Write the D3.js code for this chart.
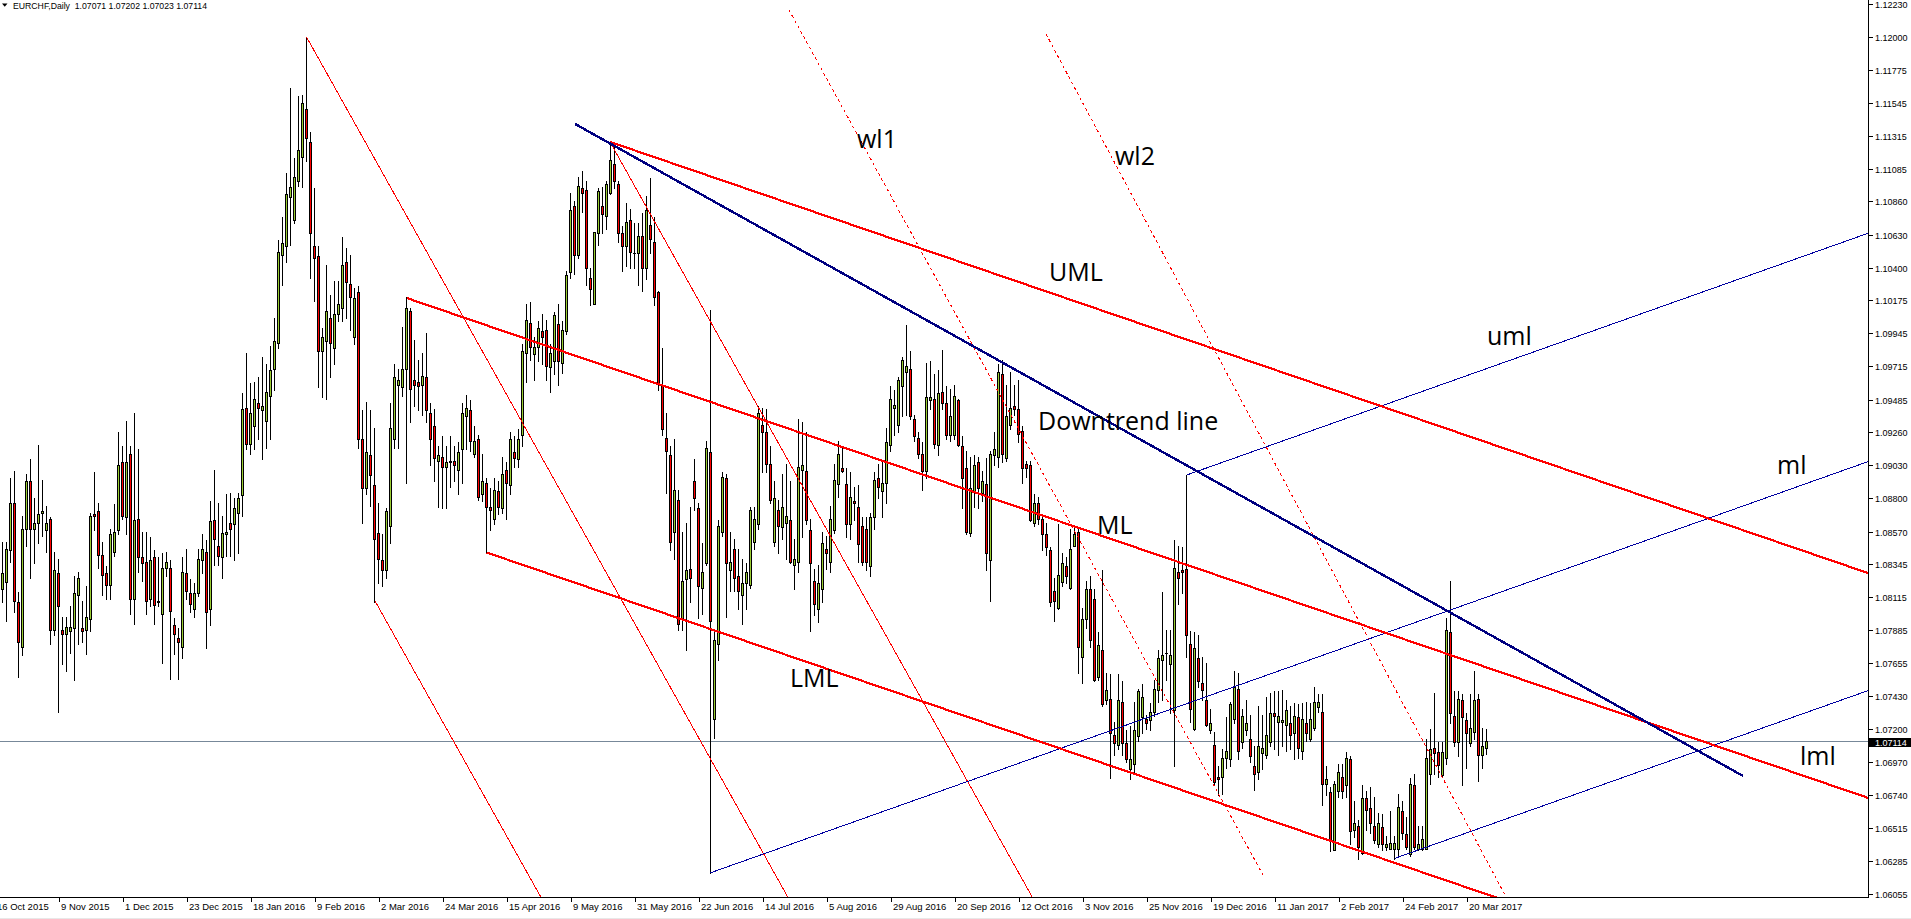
<!DOCTYPE html>
<html><head><meta charset="utf-8">
<script src="https://cdn.jsdelivr.net/npm/d3@7"></script>
<style>
html,body{margin:0;padding:0;background:#fff;overflow:hidden}
svg{display:block}
</style></head><body>
<script>
// ---------------- DATA ----------------
const chartTitle = "EURCHF,Daily";
const headerOHLC = ["1.07071", "1.07202", "1.07023", "1.07114"];
const bidPrice = 1.07114;
const firstBar = 1; // bar index of first value (bar 0 = 16 Oct 2015)

const opens = [
1.0817,1.0822,1.0844,1.0877,1.0808,1.0777,1.0859,1.0892,1.0859,1.0863,
1.0870,1.0858,1.0866,1.0789,1.0828,1.0789,1.0786,1.0788,1.0790,1.0813,
1.0790,1.0789,1.0796,1.0869,1.0871,1.0841,1.0828,1.0820,1.0843,1.0858,
1.0905,1.0867,1.0911,1.0810,1.0866,1.0839,1.0836,1.0810,1.0839,1.0809,
1.0800,1.0832,1.0832,1.0792,1.0783,1.0777,1.0828,1.0814,1.0803,1.0814,
1.0837,1.0843,1.0803,1.0865,1.0847,1.0839,1.0855,1.0863,1.0862,1.0870,
1.0882,1.0943,1.0918,1.0930,1.0946,1.0941,1.0934,1.0951,1.0970,1.0988,
1.1049,1.1055,1.1089,1.1073,1.1100,1.1117,1.1150,1.1127,1.1055,1.1048,
1.0982,1.0989,1.1005,1.0984,1.1008,1.1012,1.1044,1.1029,1.0992,1.1023,
1.0921,1.0887,1.0910,1.0889,1.0856,1.0837,1.0830,1.0861,1.0921,1.0959,
1.0957,1.0970,1.1010,1.0962,1.0961,1.0959,1.0964,1.0939,1.0930,1.0906,
1.0909,1.0902,1.0905,1.0906,1.0900,1.0914,1.0937,1.0941,1.0911,1.0921,
1.0883,1.0891,1.0874,1.0866,1.0885,1.0873,1.0900,1.0889,1.0912,1.0907,
1.0924,1.0981,1.1002,1.0980,1.0985,1.0996,1.0997,1.0971,1.0975,1.1001,
1.0974,1.0996,1.1037,1.1083,1.1049,1.1095,1.1094,1.1033,1.1015,1.1064,
1.1083,1.1076,1.1092,1.1112,1.1098,1.1064,1.1055,1.1073,1.1050,1.1050,
1.1062,1.1040,1.1070,1.1058,1.1023,1.0958,1.0922,1.0910,1.0857,1.0879,
1.0796,1.0824,1.0831,1.0892,1.0873,1.0818,1.0835,1.0912,1.0727,1.0779,
1.0857,1.0894,1.0830,1.0845,1.0826,1.0813,1.0821,1.0820,1.0850,1.0862,
1.0931,1.0926,1.0904,1.0850,1.0872,1.0860,1.0863,1.0865,1.0834,1.0836,
1.0900,1.0899,1.0858,1.0823,1.0803,1.0817,1.0845,1.0836,1.0858,1.0890,
1.0901,1.0890,1.0862,1.0878,1.0874,1.0861,1.0859,1.0833,1.0867,1.0894,
1.0885,1.0891,1.0917,1.0943,1.0931,1.0958,1.0968,1.0970,1.0935,1.0922,
1.0911,1.0899,1.0948,1.0949,1.0917,1.0954,1.0946,1.0924,1.0924,1.0948,
1.0916,1.0901,1.0856,1.0885,1.0905,1.0884,1.0890,1.0837,1.0910,1.0909,
1.0966,1.0908,1.0931,1.0944,1.0942,1.0927,1.0904,1.0903,1.0863,1.0877,
1.0866,1.0855,1.0844,1.0816,1.0804,1.0822,1.0833,1.0818,1.0847,1.0857,
1.0770,1.0796,1.0817,1.0810,1.0756,1.0775,1.0740,1.0741,1.0716,1.0709,
1.0739,1.0710,1.0692,1.0696,1.0715,1.0728,1.0727,1.0726,1.0732,1.0747,
1.0768,1.0773,1.0765,1.0733,1.0829,1.0830,1.0831,1.0779,1.0720,1.0769,
1.0752,1.0740,1.0719,1.0709,1.0687,1.0687,1.0700,1.0699,1.0727,1.0748,
1.0711,1.0719,1.0713,1.0694,1.0690,1.0703,1.0702,1.0711,1.0731,1.0725,
1.0725,1.0723,1.0724,1.0717,1.0728,1.0705,1.0724,1.0713,1.0721,1.0735,
1.0732,1.0682,1.0676,1.0636,1.0677,1.0687,1.0681,1.0699,1.0650,1.0653,
1.0634,1.0672,1.0665,1.0653,1.0640,1.0652,1.0638,1.0637,1.0637,1.0637,
1.0663,1.0647,1.0633,1.0681,1.0637,1.0637,1.0637,1.0689,1.0707,1.0704,
1.0688,1.0700,1.0787,1.0729,1.0711,1.0740,1.0726,1.0710,1.0718,1.0741,
1.0702,1.07071];

const highs = [
1.0850,1.0850,1.0894,1.0899,1.0815,1.0868,1.0897,1.0907,1.0880,1.0917,
1.0893,1.0875,1.0867,1.0843,1.0838,1.0798,1.0798,1.0805,1.0826,1.0829,
1.0809,1.0819,1.0870,1.0898,1.0877,1.0850,1.0833,1.0859,1.0876,1.0926,
1.0916,1.0934,1.0916,1.0939,1.0914,1.0857,1.0857,1.0853,1.0844,1.0839,
1.0842,1.0843,1.0837,1.0797,1.0790,1.0839,1.0845,1.0824,1.0821,1.0845,
1.0855,1.0851,1.0878,1.0900,1.0877,1.0868,1.0883,1.0884,1.0880,1.0884,
1.0953,1.0981,1.0960,1.0961,1.0964,1.0978,1.0973,1.0986,1.1005,1.1059,
1.1075,1.1106,1.1165,1.1116,1.1159,1.1160,1.1200,1.1134,1.1095,1.1055,
1.0998,1.1042,1.1021,1.1031,1.1031,1.1061,1.1054,1.1049,1.1026,1.1027,
1.0941,1.0947,1.0941,1.0929,1.0877,1.0855,1.0873,1.0946,1.0973,1.0970,
1.0999,1.1020,1.1012,1.0990,1.0976,1.0981,1.0995,1.0946,1.0942,1.0916,
1.0923,1.0916,1.0923,1.0916,1.0919,1.0946,1.0952,1.0948,1.0930,1.0924,
1.0911,1.0894,1.0887,1.0894,1.0892,1.0909,1.0905,1.0926,1.0923,1.0928,
1.0987,1.1015,1.1016,1.0992,1.1003,1.1008,1.1004,1.0987,1.1009,1.1015,
1.1003,1.1038,1.1092,1.1086,1.1103,1.1107,1.1100,1.1040,1.1065,1.1095,
1.1096,1.1100,1.1128,1.1126,1.1100,1.1069,1.1085,1.1081,1.1071,1.1071,
1.1078,1.1090,1.1102,1.1075,1.1024,1.0984,1.0939,1.0916,1.0921,1.0886,
1.0857,1.0863,1.0874,1.0907,1.0877,1.0849,1.0920,1.1011,1.0789,1.0865,
1.0898,1.0897,1.0857,1.0852,1.0845,1.0838,1.0835,1.0874,1.0874,1.0944,
1.0943,1.0942,1.0916,1.0892,1.0879,1.0897,1.0904,1.0892,1.0852,1.0935,
1.0933,1.0926,1.0866,1.0831,1.0834,1.0857,1.0854,1.0875,1.0904,1.0920,
1.0916,1.0901,1.0898,1.0888,1.0889,1.0867,1.0867,1.0870,1.0898,1.0904,
1.0906,1.0929,1.0958,1.0955,1.0964,1.0978,1.1000,1.0982,1.0938,1.0926,
1.0919,1.0974,1.0975,1.0966,1.0969,1.0983,1.0958,1.0956,1.0959,1.0949,
1.0923,1.0913,1.0909,1.0910,1.0909,1.0899,1.0908,1.0913,1.0926,1.0973,
1.0976,1.0959,1.0968,1.0959,1.0962,1.0930,1.0906,1.0906,1.0883,1.0881,
1.0869,1.0863,1.0846,1.0825,1.0862,1.0842,1.0839,1.0859,1.0860,1.0859,
1.0804,1.0823,1.0826,1.0817,1.0787,1.0830,1.0759,1.0758,1.0725,1.0758,
1.0753,1.0719,1.0722,1.0739,1.0748,1.0751,1.0730,1.0738,1.0754,1.0775,
1.0815,1.0789,1.0789,1.0851,1.0847,1.0846,1.0896,1.0788,1.0787,1.0785,
1.0770,1.0766,1.0734,1.0718,1.0694,1.0706,1.0728,1.0739,1.0760,1.0759,
1.0734,1.0740,1.0730,1.0708,1.0736,1.0730,1.0742,1.0745,1.0746,1.0746,
1.0747,1.0740,1.0736,1.0738,1.0737,1.0738,1.0739,1.0738,1.0749,1.0744,
1.0744,1.0694,1.0680,1.0684,1.0696,1.0696,1.0704,1.0701,1.0670,1.0657,
1.0681,1.0677,1.0680,1.0673,1.0662,1.0661,1.0646,1.0663,1.0646,1.0675,
1.0670,1.0659,1.0686,1.0689,1.0653,1.0653,1.0713,1.0720,1.0745,1.0711,
1.0711,1.0797,1.0823,1.0746,1.0746,1.0744,1.0731,1.0744,1.0760,1.0744,
1.0721,1.07202];

const lows = [
1.0808,1.0795,1.0836,1.0801,1.0756,1.0771,1.0847,1.0825,1.0835,1.0849,
1.0854,1.0843,1.0779,1.0785,1.0732,1.0765,1.0760,1.0773,1.0754,1.0779,
1.0780,1.0772,1.0788,1.0858,1.0832,1.0813,1.0810,1.0810,1.0840,1.0855,
1.0866,1.0855,1.0800,1.0793,1.0829,1.0823,1.0800,1.0805,1.0793,1.0805,
1.0766,1.0826,1.0755,1.0772,1.0755,1.0769,1.0810,1.0801,1.0798,1.0812,
1.0828,1.0776,1.0792,1.0834,1.0834,1.0825,1.0840,1.0840,1.0837,1.0842,
1.0868,1.0914,1.0911,1.0914,1.0921,1.0907,1.0915,1.0921,1.0955,1.0984,
1.1028,1.1044,1.1056,1.1071,1.1097,1.1096,1.1114,1.1033,1.1017,1.0957,
1.0950,1.0949,1.0964,1.0973,1.1003,1.1003,1.1005,1.0997,1.0987,1.0915,
1.0863,1.0883,1.0875,1.0808,1.0821,1.0819,1.0825,1.0849,1.0915,1.0915,
1.0951,1.0891,1.0933,1.0944,1.0941,1.0938,1.0933,1.0903,1.0892,1.0874,
1.0873,1.0873,1.0888,1.0892,1.0883,1.0891,1.0914,1.0913,1.0909,1.0879,
1.0878,1.0843,1.0858,1.0862,1.0869,1.0870,1.0866,1.0883,1.0902,1.0902,
1.0916,1.0961,1.0976,1.0962,1.0975,1.0973,1.0962,1.0954,1.0966,1.0959,
1.0967,1.0994,1.1033,1.1036,1.1047,1.1079,1.1028,1.1014,1.1015,1.1056,
1.1064,1.1067,1.1091,1.1095,1.1058,1.1038,1.1041,1.1040,1.1040,1.1028,
1.1024,1.1032,1.1050,1.1014,1.0955,1.0924,1.0884,1.0844,1.0838,1.0789,
1.0789,1.0775,1.0808,1.0872,1.0797,1.0800,1.0834,1.0620,1.0714,1.0768,
1.0854,1.0798,1.0816,1.0816,1.0803,1.0793,1.0803,1.0818,1.0845,1.0859,
1.0898,1.0898,1.0877,1.0847,1.0842,1.0852,1.0838,1.0835,1.0817,1.0829,
1.0853,1.0862,1.0788,1.0799,1.0794,1.0808,1.0831,1.0829,1.0856,1.0881,
1.0898,1.0853,1.0852,1.0865,1.0836,1.0834,1.0830,1.0826,1.0859,1.0880,
1.0867,1.0877,1.0913,1.0924,1.0926,1.0937,1.0938,1.0935,1.0920,1.0908,
1.0886,1.0894,1.0942,1.0915,1.0910,1.0942,1.0921,1.0920,1.0921,1.0916,
1.0873,1.0855,1.0854,1.0874,1.0873,1.0878,1.0830,1.0809,1.0903,1.0902,
1.0905,1.0906,1.0928,1.0938,1.0919,1.0891,1.0895,1.0864,1.0861,1.0862,
1.0844,1.0841,1.0805,1.0795,1.0803,1.0819,1.0821,1.0817,1.0847,1.0759,
1.0752,1.0790,1.0777,1.0753,1.0754,1.0736,1.0737,1.0686,1.0702,1.0706,
1.0702,1.0697,1.0685,1.0689,1.0712,1.0717,1.0720,1.0719,1.0729,1.0739,
1.0740,1.0754,1.0731,1.0694,1.0807,1.0814,1.0770,1.0725,1.0719,1.0749,
1.0740,1.0722,1.0717,1.0682,1.0674,1.0675,1.0693,1.0694,1.0724,1.0699,
1.0707,1.0716,1.0697,1.0678,1.0685,1.0692,1.0700,1.0708,1.0706,1.0702,
1.0708,1.0705,1.0706,1.0699,1.0700,1.0699,1.0712,1.0712,1.0719,1.0732,
1.0667,1.0674,1.0635,1.0636,1.0673,1.0672,1.0673,1.0640,1.0645,1.0630,
1.0633,1.0650,1.0648,1.0641,1.0638,1.0636,1.0636,1.0637,1.0630,1.0632,
1.0644,1.0637,1.0632,1.0637,1.0636,1.0636,1.0637,1.0682,1.0689,1.0687,
1.0687,1.0696,1.0724,1.0708,1.0701,1.0681,1.0693,1.0708,1.0713,1.0684,
1.0693,1.07023];

const closes = [
1.0828,1.0845,1.0877,1.0809,1.0780,1.0859,1.0892,1.0859,1.0863,1.0869,
1.0871,1.0863,1.0789,1.0830,1.0805,1.0786,1.0791,1.0791,1.0814,1.0825,
1.0788,1.0798,1.0868,1.0868,1.0841,1.0827,1.0820,1.0855,1.0857,1.0903,
1.0868,1.0905,1.0810,1.0865,1.0839,1.0835,1.0809,1.0837,1.0806,1.0808,
1.0832,1.0836,1.0802,1.0786,1.0780,1.0829,1.0816,1.0807,1.0814,1.0838,
1.0845,1.0801,1.0864,1.0852,1.0840,1.0856,1.0857,1.0859,1.0873,1.0880,
1.0942,1.0918,1.0939,1.0949,1.0943,1.0944,1.0954,1.0969,1.0989,1.1051,
1.1057,1.1091,1.1096,1.1103,1.1122,1.1154,1.1130,1.1064,1.1047,1.0982,
1.0992,1.1010,1.0988,1.1008,1.1015,1.1042,1.1030,1.1020,1.1019,1.0921,
1.0887,1.0912,1.0896,1.0852,1.0838,1.0830,1.0871,1.0929,1.0964,1.0962,
1.0970,1.1012,1.0956,1.0959,1.0958,1.0965,1.0941,1.0921,1.0908,1.0910,
1.0902,1.0905,1.0906,1.0903,1.0912,1.0939,1.0943,1.0920,1.0920,1.0881,
1.0892,1.0874,1.0872,1.0886,1.0874,1.0897,1.0891,1.0921,1.0908,1.0921,
1.0982,1.1004,1.0985,1.0985,1.0998,1.0992,1.0972,1.0981,1.1007,1.0975,
1.0997,1.1035,1.1080,1.1049,1.1097,1.1092,1.1040,1.1025,1.1065,1.1093,
1.1077,1.1098,1.1115,1.1100,1.1064,1.1055,1.1072,1.1051,1.1050,1.1062,
1.1040,1.1080,1.1060,1.1020,1.0960,1.0928,1.0913,1.0850,1.0886,1.0793,
1.0823,1.0830,1.0825,1.0880,1.0819,1.0829,1.0915,1.0795,1.0782,1.0861,
1.0895,1.0835,1.0836,1.0825,1.0816,1.0821,1.0829,1.0872,1.0866,1.0939,
1.0926,1.0904,1.0879,1.0880,1.0861,1.0874,1.0868,1.0836,1.0838,1.0902,
1.0903,1.0865,1.0835,1.0807,1.0821,1.0849,1.0842,1.0866,1.0893,1.0911,
1.0899,1.0862,1.0881,1.0877,1.0848,1.0836,1.0836,1.0867,1.0893,1.0888,
1.0891,1.0919,1.0949,1.0945,1.0962,1.0976,1.0972,1.0937,1.0923,1.0911,
1.0899,1.0950,1.0950,1.0918,1.0953,1.0946,1.0924,1.0937,1.0951,1.0917,
1.0894,1.0857,1.0887,1.0903,1.0887,1.0892,1.0842,1.0911,1.0914,1.0968,
1.0911,1.0937,1.0943,1.0942,1.0925,1.0901,1.0901,1.0865,1.0877,1.0866,
1.0855,1.0846,1.0808,1.0809,1.0827,1.0835,1.0826,1.0845,1.0855,1.0777,
1.0796,1.0817,1.0782,1.0754,1.0778,1.0737,1.0747,1.0717,1.0710,1.0740,
1.0710,1.0699,1.0699,1.0719,1.0746,1.0742,1.0724,1.0732,1.0748,1.0769,
1.0771,1.0773,1.0771,1.0832,1.0825,1.0829,1.0785,1.0734,1.0776,1.0753,
1.0747,1.0723,1.0724,1.0683,1.0685,1.0700,1.0705,1.0737,1.0749,1.0705,
1.0729,1.0724,1.0701,1.0689,1.0708,1.0707,1.0716,1.0731,1.0729,1.0729,
1.0726,1.0733,1.0716,1.0729,1.0707,1.0727,1.0717,1.0727,1.0739,1.0739,
1.0682,1.0685,1.0642,1.0682,1.0690,1.0677,1.0700,1.0649,1.0655,1.0638,
1.0672,1.0664,1.0655,1.0643,1.0655,1.0640,1.0640,1.0641,1.0641,1.0666,
1.0648,1.0638,1.0682,1.0638,1.0640,1.0644,1.0700,1.0706,1.0703,1.0695,
1.0704,1.0789,1.0731,1.0711,1.0741,1.0728,1.0717,1.0721,1.0740,1.0702,
1.0708,1.07114];

const dateTickLabels = ["16 Oct 2015","9 Nov 2015","1 Dec 2015","23 Dec 2015","18 Jan 2016","9 Feb 2016",
  "2 Mar 2016","24 Mar 2016","15 Apr 2016","9 May 2016","31 May 2016","22 Jun 2016","14 Jul 2016",
  "5 Aug 2016","29 Aug 2016","20 Sep 2016","12 Oct 2016","3 Nov 2016","25 Nov 2016","19 Dec 2016",
  "11 Jan 2017","2 Feb 2017","24 Feb 2017","20 Mar 2017"];
const dateTickBars = [0,16,32,48,64,80,96,112,128,144,160,176,192,208,224,240,256,272,288,304,320,336,352,368];

const priceTickLabels = ["1.12230","1.12000","1.11775","1.11545","1.11315","1.11085","1.10860","1.10630",
  "1.10400","1.10175","1.09945","1.09715","1.09485","1.09260","1.09030","1.08800","1.08570","1.08345",
  "1.08115","1.07885","1.07655","1.07430","1.07200","1.06970","1.06740","1.06515","1.06285","1.06055"];

// drawn objects: [barStart, priceStart, barEnd, priceEnd]
const redPitchfork = [          // UML, ML, LML
  [153, 1.11273, 467.5, 1.08282],
  [102.17, 1.10190, 467.5, 1.06722],
  [122.17, 1.08424, 467.5, 1.05149]];
const redThinLines = [
  [77.17, 1.11999, 199.3, 1.05942],
  [94.25, 1.08088, 137.5, 1.05945],
  [153, 1.11273, 260.45, 1.05940]];
const redDottedLines = [        // wl1, wl2
  [197.75, 1.12189, 316.25, 1.06187],
  [262, 1.12022, 377, 1.06035]];
const downtrendLine = [[144.25, 1.11398, 436.25, 1.06874]];
const bluePitchfork = [         // uml, ml, lml
  [297.17, 1.08962, 467.5, 1.10639],
  [178, 1.06201, 467.5, 1.09055],
  [349.25, 1.06303, 467.5, 1.07466]];

const annotations = [
  {text:"wl1", bar:214.75, price:1.11231},
  {text:"wl2", bar:279.25, price:1.11113},
  {text:"UML", bar:262.75, price:1.10308},
  {text:"uml", bar:372.25, price:1.09864},
  {text:"Downtrend line", bar:260, price:1.09275},
  {text:"ml", bar:444.75, price:1.08969},
  {text:"ML", bar:274.75, price:1.08553},
  {text:"LML", bar:198, price:1.07492},
  {text:"lml", bar:450.5, price:1.06950}];

// ---------------- CHART ----------------
const W = 1911, H = 919, plotW = 1868, plotH = 897;
const x = d3.scaleLinear().domain([0, 467.5]).range([-2, 1868]);
const y = d3.scaleLinear().domain([1.06055, 1.12230]).range([894, 4]);

const svg = d3.select("body").append("svg").attr("width", W).attr("height", H)
  .style("font-family", "'Liberation Sans', Arial, sans-serif");
svg.append("rect").attr("width", W).attr("height", H).attr("fill", "#fff");
svg.append("rect").attr("x", 0).attr("y", 918).attr("width", W).attr("height", 1).attr("fill", "#e8e8e8");

svg.append("defs").append("clipPath").attr("id", "plotclip")
  .append("rect").attr("x", 0).attr("y", 0).attr("width", plotW).attr("height", plotH);
const plot = svg.append("g").attr("clip-path", "url(#plotclip)");

// bid line
const bidY = Math.round(y(bidPrice));
plot.append("line").attr("x1", 0).attr("x2", plotW).attr("y1", bidY + 0.5).attr("y2", bidY + 0.5)
  .attr("stroke", "#778899").attr("stroke-width", 1).attr("shape-rendering", "crispEdges");

// candles
const bars = opens.map((o, k) => ({i: firstBar + k, o, h: Math.max(highs[k], o, closes[k]),
  l: Math.min(lows[k], o, closes[k]), c: closes[k]}));
const cg = plot.append("g").attr("shape-rendering", "crispEdges");
const cs = cg.selectAll("g.c").data(bars).join("g").attr("class", "c");
cs.append("rect")
  .attr("x", d => Math.round(x(d.i))).attr("width", 1)
  .attr("y", d => Math.round(y(d.h)))
  .attr("height", d => Math.round(y(d.l)) - Math.round(y(d.h)) + 1)
  .attr("fill", "#000");
cs.append("rect")
  .attr("x", d => Math.round(x(d.i)) - 1).attr("width", 3)
  .attr("y", d => Math.round(y(Math.max(d.o, d.c))))
  .attr("height", d => Math.round(y(Math.min(d.o, d.c))) - Math.round(y(Math.max(d.o, d.c))) + 1)
  .attr("fill", "#000");
cs.append("rect")
  .attr("x", d => Math.round(x(d.i))).attr("width", 1)
  .attr("y", d => Math.round(y(Math.max(d.o, d.c))) + 1)
  .attr("height", d => Math.max(0, Math.round(y(Math.min(d.o, d.c))) - Math.round(y(Math.max(d.o, d.c))) - 1))
  .attr("fill", d => d.c >= d.o ? "#9acd32" : "#ff0000");

// drawn objects
function drawLines(arr, color, width, dash) {
  plot.append("g").selectAll("line").data(arr).join("line")
    .attr("x1", d => x(d[0])).attr("y1", d => y(d[1]))
    .attr("x2", d => x(d[2])).attr("y2", d => y(d[3]))
    .attr("stroke", color).attr("stroke-width", width)
    .attr("stroke-dasharray", dash || null)
    .attr("shape-rendering", "crispEdges").attr("fill", "none");
}
drawLines(redThinLines, "#ff0000", 1);
drawLines(redDottedLines, "#ff0000", 1, "3,3");
drawLines(bluePitchfork, "#0000a0", 1);
drawLines(redPitchfork, "#ff0000", 2.2);
drawLines(downtrendLine, "#000080", 2.4);

// annotations
plot.append("g").selectAll("text").data(annotations).join("text")
  .attr("x", d => x(d.bar)).attr("y", d => y(d.price))
  .attr("font-family", "'Open Sans', 'Noto Sans', sans-serif").attr("font-size", 25)
  .attr("fill", "#000").text(d => d.text);

// axes
const ax = svg.append("g").attr("shape-rendering", "crispEdges");
ax.append("line").attr("x1", plotW + 0.5).attr("x2", plotW + 0.5).attr("y1", 0).attr("y2", plotH + 1)
  .attr("stroke", "#000");
ax.append("line").attr("x1", 0).attr("x2", plotW + 1).attr("y1", plotH + 0.5).attr("y2", plotH + 0.5)
  .attr("stroke", "#000");

const pt = ax.selectAll("g.pt").data(priceTickLabels).join("g").attr("class", "pt");
pt.append("line").attr("x1", plotW + 1).attr("x2", plotW + 5)
  .attr("y1", d => Math.round(y(+d)) + 0.5).attr("y2", d => Math.round(y(+d)) + 0.5).attr("stroke", "#000");
pt.append("text").attr("x", plotW + 7).attr("y", d => Math.round(y(+d)) + 3.5)
  .attr("font-size", 9).attr("fill", "#000").text(d => d);

const dt = ax.selectAll("g.dt").data(dateTickLabels).join("g").attr("class", "dt");
dt.append("line").attr("x1", (d, k) => Math.round(x(dateTickBars[k])) - 2.5)
  .attr("x2", (d, k) => Math.round(x(dateTickBars[k])) - 2.5)
  .attr("y1", plotH + 1).attr("y2", plotH + 5).attr("stroke", "#000");
dt.append("text").attr("x", (d, k) => x(dateTickBars[k]) - 1).attr("y", 910)
  .attr("font-size", 9.5).attr("fill", "#000").text(d => d);

// current price box
svg.append("rect").attr("x", plotW).attr("y", bidY - 3).attr("width", W - plotW).attr("height", 9)
  .attr("fill", "#000");
svg.append("text").attr("x", plotW + 7).attr("y", bidY + 4.5).attr("font-size", 9)
  .attr("fill", "#fff").text(headerOHLC[3]);

// header
svg.append("path").attr("d", "M2,3.5 L7.5,3.5 L4.75,6.8 Z").attr("fill", "#000");
svg.append("text").attr("x", 13).attr("y", 8.5).attr("font-size", 8.7).attr("fill", "#000")
  .style("white-space", "pre").text(chartTitle + "  " + headerOHLC.join(" "));
</script>
</body></html>
